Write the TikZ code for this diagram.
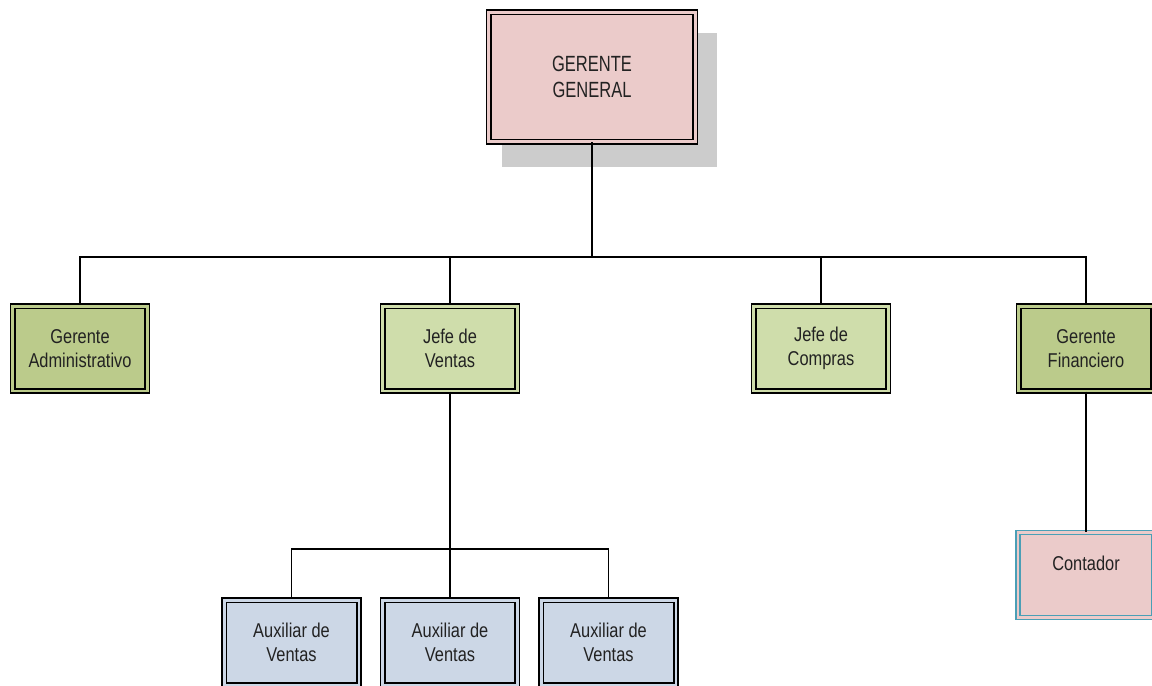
\documentclass[tikz,border=0pt]{standalone}
\usepackage{fontspec}
\setmainfont{Liberation Sans}
\newfontfamily\lblfont[FakeStretch=0.82]{Liberation Sans}
\newfontfamily\topfont[FakeStretch=0.75]{Liberation Sans}
\usetikzlibrary{shadows}
\definecolor{pinkbox}{HTML}{EBCBCA}
\definecolor{darkgreen}{HTML}{BBCB8B}
\definecolor{lightgreen}{HTML}{CFDDAB}
\definecolor{bluebox}{HTML}{CCD7E6}
\definecolor{shadowc}{HTML}{CCCCCC}
\definecolor{tealline}{HTML}{4A9FB6}
\definecolor{txt}{HTML}{222222}
\begin{document}
\begin{tikzpicture}[x=0.75pt,y=-0.75pt,
  box/.style={draw=black, line width=1.15pt, double distance=2pt, align=center,
    font=\lblfont\fontsize{15}{18}\selectfont, text=txt, inner sep=2pt,
    minimum width=101pt, minimum height=63.5pt},
  topbox/.style={box, fill=pinkbox, double=pinkbox, minimum width=155pt, minimum height=97pt,
    font=\topfont\fontsize{16.5}{19.5}\selectfont,
    drop shadow={shadow xshift=12.75pt, shadow yshift=-16.5pt, shadow scale=1.04, fill=shadowc, opacity=1}},
  dgbox/.style={box, fill=darkgreen, double=darkgreen},
  lgbox/.style={box, fill=lightgreen, double=lightgreen},
  bbox/.style={box, fill=bluebox, double=bluebox},
  cbox/.style={box, draw=tealline, line width=0.9pt, double distance=2.2pt, fill=pinkbox, double=pinkbox,
    minimum width=102pt, minimum height=63.8pt},
  conn/.style={draw=black, line width=0.9pt}]
\useasboundingbox (0,0) rectangle (1152,685);
\clip (0,0) rectangle (1152,685);
\node[topbox] (gg) at (592,77) {GERENTE\\GENERAL};
\node[dgbox] (ga) at (80,348.5) {Gerente\\Administrativo};
\node[lgbox] (jv) at (450,348.5) {Jefe de\\Ventas};
\node[lgbox] (jc) at (821,348.5) {Jefe de\\Compras};
\node[dgbox] (gf) at (1086,348.5) {Gerente\\Financiero};
\node[bbox] (a1) at (291.5,642.5) {Auxiliar de\\Ventas};
\node[bbox] (a2) at (450,642.5) {Auxiliar de\\Ventas};
\node[bbox] (a3) at (608.5,642.5) {Auxiliar de\\Ventas};
\node[cbox] (ct) at (1086,575) {Contador\\\mbox{}};
\coordinate (bus) at (592,257);
\coordinate (bus2) at (450,549);
\draw[conn] (gg.south) -- (bus);
\draw[conn] (bus) -| (ga.north);
\draw[conn] (bus) -| (jv.north);
\draw[conn] (bus) -| (jc.north);
\draw[conn] (bus) -| (gf.north);
\draw[conn] (jv.south) -- (bus2);
\draw[conn] (bus2) -| (a1.north);
\draw[conn] (bus2) -- (a2.north);
\draw[conn] (bus2) -| (a3.north);
\draw[conn] (gf.south) -- (ct.north);
\end{tikzpicture}
\end{document}
